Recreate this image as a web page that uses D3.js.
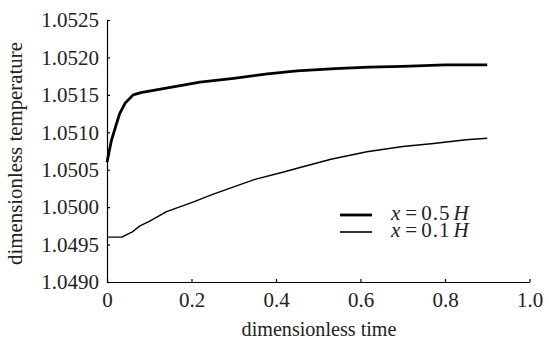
<!DOCTYPE html>
<html>
<head>
<meta charset="utf-8">
<script src="https://cdn.jsdelivr.net/npm/d3@7"></script>
<style>
  html, body { margin: 0; padding: 0; background: #fff; }
  .domain, .tick line { stroke: #000; stroke-width: 1.2; }
</style>
</head>
<body>
<svg id="chart" width="549" height="341"></svg>
<script>
// x = 0.5H (thick) and x = 0.1H (thin)
const time05 = [0, 0.01, 0.02, 0.03, 0.043, 0.062, 0.08, 0.1, 0.14, 0.22, 0.3, 0.38, 0.45, 0.54, 0.62, 0.7, 0.8, 0.9];
const temp05 = [1.05060, 1.05088, 1.05107, 1.05125, 1.05139, 1.05150, 1.05153, 1.05155, 1.05159, 1.05167, 1.05172, 1.05178, 1.05182, 1.05185, 1.05187, 1.05188, 1.05190, 1.05190];
const time01 = [0, 0.035, 0.06, 0.078, 0.1, 0.141, 0.205, 0.25, 0.3, 0.35, 0.418, 0.457, 0.53, 0.615, 0.7, 0.773, 0.85, 0.9];
const temp01 = [1.04960, 1.04960, 1.04967, 1.04975, 1.04981, 1.04994, 1.05007, 1.05017, 1.05027, 1.05037, 1.05047, 1.05053, 1.05064, 1.05074, 1.05081, 1.05085, 1.05090, 1.05092];
const xTicks = [0, 0.2, 0.4, 0.6, 0.8, 1.0];
const xTickLabels = ["0", "0.2", "0.4", "0.6", "0.8", "1.0"];
const yTicks = [1.0490, 1.0495, 1.0500, 1.0505, 1.0510, 1.0515, 1.0520, 1.0525];
const legendLabels = [["x", "=", "0.5", "H"], ["x", "=", "0.1", "H"]];

const SERIF = '"Liberation Serif"';
const svg = d3.select("#chart");
const x = d3.scaleLinear().domain([0, 1]).range([107, 529.5]);
const y = d3.scaleLinear().domain([1.0490, 1.0525]).range([282, 20]);

svg.append("g").attr("transform", "translate(0,282)")
  .call(d3.axisBottom(x).tickValues(xTicks).tickFormat((d, i) => xTickLabels[i]).tickSizeInner(-3).tickSizeOuter(0).tickPadding(10))
  .call(g => g.selectAll("text").style("font-family", SERIF).attr("font-size", 21).attr("fill", "#222"));
svg.append("g").attr("transform", "translate(107,0)")
  .call(d3.axisLeft(y).tickValues(yTicks).tickFormat(d3.format(".4f")).tickSizeInner(-3).tickSizeOuter(0).tickPadding(8))
  .call(g => g.selectAll("text").style("font-family", SERIF).attr("font-size", 21).attr("fill", "#222"));

const line = d3.line().x(d => x(d[0])).y(d => y(d[1]));
svg.append("path").datum(time05.map((t, i) => [t, temp05[i]]))
  .attr("d", line).attr("fill", "none").attr("stroke", "#000").attr("stroke-width", 2.8).attr("stroke-linejoin", "round");
svg.append("path").datum(time01.map((t, i) => [t, temp01[i]]))
  .attr("d", line).attr("fill", "none").attr("stroke", "#000").attr("stroke-width", 1.4).attr("stroke-linejoin", "round");

// axis titles, sized so they span the same length as in the picture
function fitText(sel, width) {
  const w = sel.node().getComputedTextLength();
  sel.attr("font-size", 20 * width / w);
}
const xt = svg.append("text").attr("x", 319).attr("y", 336).attr("text-anchor", "middle")
  .style("font-family", SERIF).attr("font-size", 20).attr("fill", "#222").text("dimensionless time");
fitText(xt, 155);
const yt = svg.append("text").attr("transform", "translate(22,153.5) rotate(-90)").attr("text-anchor", "middle")
  .style("font-family", SERIF).attr("font-size", 20).attr("fill", "#222").text("dimensionless temperature");
fitText(yt, 223);

// legend
const lg = svg.append("g");
[215, 232].forEach((ly, i) => {
  lg.append("line").attr("x1", 340).attr("x2", 372).attr("y1", ly).attr("y2", ly)
    .attr("stroke", "#000").attr("stroke-width", i === 0 ? 2.8 : 1.6);
  const tx = lg.append("text").attr("x", 391).attr("y", ly + 4.5).attr("font-size", 21)
    .style("font-family", SERIF).attr("fill", "#222");
  legendLabels[i].forEach((s, j) => {
    tx.append("tspan").attr("font-style", (j === 0 || j === 3) ? "italic" : null)
      .attr("dx", j === 1 ? 5 : (j === 2 ? 4 : (j === 3 ? 3 : 0)))
      .attr("letter-spacing", j === 2 ? 1 : null).text(s);
  });
});
</script>
</body>
</html>
